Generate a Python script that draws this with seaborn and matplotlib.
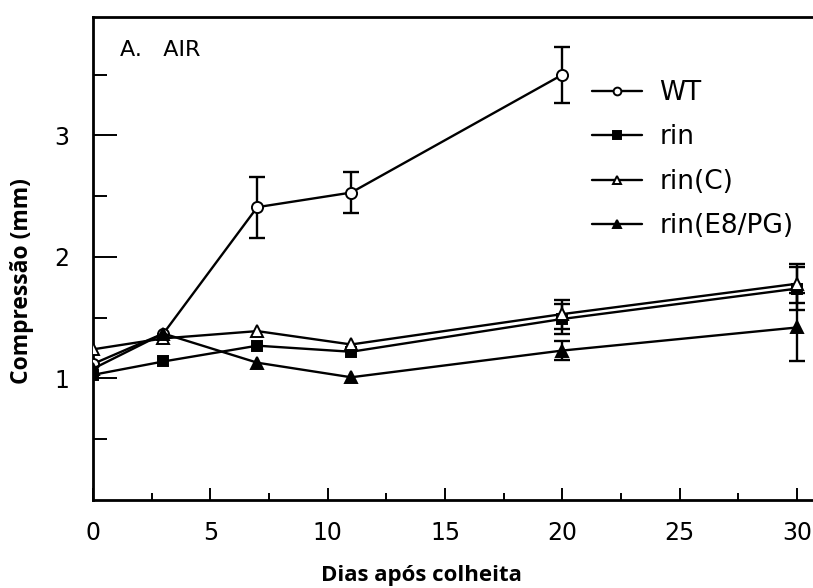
import numpy as np
import pandas as pd
import matplotlib
matplotlib.use("Agg")
import matplotlib.pyplot as plt
import seaborn as sns
from matplotlib.ticker import MultipleLocator

# ---- data ----
days_wt = [0, 3, 7, 11, 20]
days = [0, 3, 7, 11, 20, 30]

wt = [1.12, 1.37, 2.41, 2.53, 3.50]
wt_err = [0, 0, 0.25, 0.17, 0.23]

rin = [1.03, 1.14, 1.27, 1.22, 1.49, 1.74]
rin_err = [0, 0, 0, 0, 0.12, 0.18]

rin_c = [1.24, 1.33, 1.39, 1.28, 1.53, 1.78]
rin_c_err = [0, 0, 0, 0, 0.12, 0.16]

rin_e8 = [1.08, 1.37, 1.13, 1.01, 1.23, 1.42]
rin_e8_err = [0, 0, 0, 0, 0.08, 0.28]

series_names = ["WT", "rin", "rin(C)", "rin(E8/PG)"]
x_label = "Dias após colheita"
y_label = "Compressão (mm)"
panel_title = "A.   AIR"

# ---- styling ----
sns.set_theme(style="white")
plt.rcParams["font.family"] = ["DejaVu Sans"]
plt.rcParams["text.color"] = "black"
plt.rcParams["axes.labelcolor"] = "black"
plt.rcParams["xtick.color"] = "black"
plt.rcParams["ytick.color"] = "black"

fig = plt.figure(figsize=(8.13, 5.88), dpi=100)
ax = fig.add_axes([93 / 813, 88 / 588, 720 / 813, 483 / 588])

series = [
    (series_names[0], days_wt, wt, wt_err, "o", "white", 8),
    (series_names[1], days, rin, rin_err, "s", "black", 7.5),
    (series_names[2], days, rin_c, rin_c_err, "^", "white", 8),
    (series_names[3], days, rin_e8, rin_e8_err, "^", "black", 8),
]

for name, xs, ys, errs, mk, fc, ms in series:
    sns.lineplot(x=xs, y=ys, ax=ax, color="black", lw=1.7, marker=mk,
                 markersize=ms, markerfacecolor=fc, markeredgecolor="black",
                 markeredgewidth=1.4, label=name, zorder=3)
    xs_a = np.array(xs, dtype=float)
    ys_a = np.array(ys, dtype=float)
    er_a = np.array(errs, dtype=float)
    m = er_a > 0
    if m.any():
        ax.errorbar(xs_a[m], ys_a[m], yerr=er_a[m], fmt="none", ecolor="black",
                    elinewidth=1.7, capsize=6, capthick=1.7, zorder=2)

ax.set_xlim(0, 30.68)
ax.set_ylim(0, 3.975)

ax.xaxis.set_major_locator(MultipleLocator(5))
ax.xaxis.set_minor_locator(MultipleLocator(2.5))
ax.set_yticks([1, 2, 3])
ax.set_yticks([0.5, 1.5, 2.5, 3.5], minor=True)

ax.tick_params(axis="both", which="both", direction="in", color="black",
               labelcolor="black", labelsize=17, width=1.4)
ax.tick_params(axis="x", which="major", length=9, pad=15)
ax.tick_params(axis="x", which="minor", length=5)
ax.tick_params(axis="y", which="major", length=17, pad=17)
ax.tick_params(axis="y", which="minor", length=10)
ax.tick_params(bottom=True, left=True, which="both")

for side in ["left", "bottom", "top"]:
    ax.spines[side].set_visible(True)
    ax.spines[side].set_color("black")
    ax.spines[side].set_linewidth(2)
ax.spines["right"].set_visible(False)

lab_font = ["Open Sans", "DejaVu Sans"]
ax.set_xlabel(x_label, fontsize=16, fontweight="bold", family=lab_font, color="black")
ax.set_ylabel(y_label, fontsize=16.5, fontweight="bold", family=lab_font, color="black")
ax.xaxis.set_label_coords((421 - 93) / 720, (500 - 565) / 483)
ax.yaxis.set_label_coords((34 - 93) / 720, (500 - 281) / 483)

ax.text(27 / 720, (500 - 50) / 483, panel_title, transform=ax.transAxes,
        fontsize=16, ha="left", va="center", color="black")

leg = ax.legend(loc="upper left", bbox_to_anchor=((592 - 93) / 720, (500 - 80) / 483),
                frameon=False, fontsize=19, handlelength=1.9, handletextpad=0.65,
                labelspacing=0.7, borderaxespad=0, borderpad=0, markerscale=0.7)
for t in leg.get_texts():
    t.set_color("black")

fig.savefig("out.png", dpi=100)
